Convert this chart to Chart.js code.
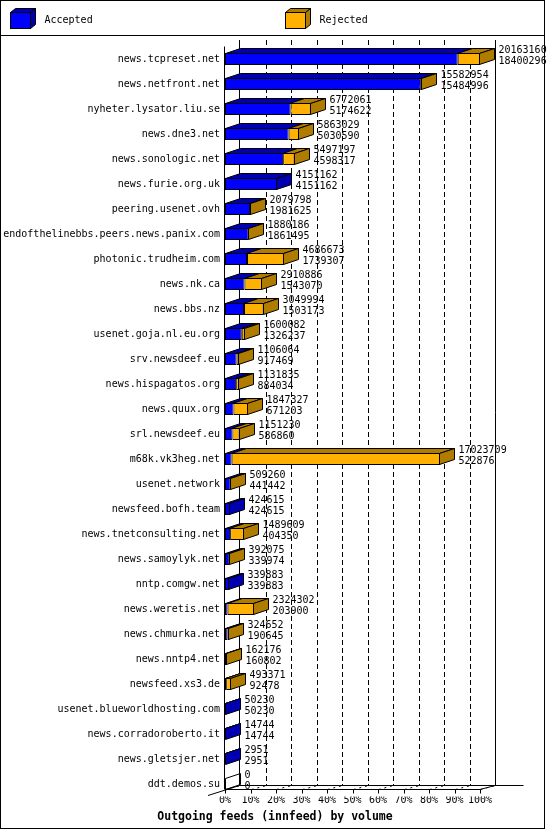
<!DOCTYPE html>
<html>
<head>
<meta charset="utf-8">
<title>Outgoing feeds (innfeed) by volume</title>
<script src="https://cdn.jsdelivr.net/npm/chart.js@4.4.1/dist/chart.umd.min.js"></script>
<style>
  body { margin: 0; background: #fff; }
  canvas { display: block; }
</style>
</head>
<body>
<canvas id="feeds" width="550" height="830"></canvas>
<script>
const servers = [
  'news.tcpreset.net', 'news.netfront.net', 'nyheter.lysator.liu.se', 'news.dne3.net',
  'news.sonologic.net', 'news.furie.org.uk', 'peering.usenet.ovh',
  'endofthelinebbs.peers.news.panix.com', 'photonic.trudheim.com', 'news.nk.ca',
  'news.bbs.nz', 'usenet.goja.nl.eu.org', 'srv.newsdeef.eu', 'news.hispagatos.org',
  'news.quux.org', 'srl.newsdeef.eu', 'm68k.vk3heg.net', 'usenet.network',
  'newsfeed.bofh.team', 'news.tnetconsulting.net', 'news.samoylyk.net', 'nntp.comgw.net',
  'news.weretis.net', 'news.chmurka.net', 'news.nntp4.net', 'newsfeed.xs3.de',
  'usenet.blueworldhosting.com', 'news.corradoroberto.it', 'news.gletsjer.net', 'ddt.demos.su'
];
// first number next to each bar: offered volume
const offered = [
  20163160, 15582954, 6772061, 5863029, 5497197, 4151162, 2079798, 1880186,
  4686673, 2910886, 3049994, 1600082, 1106064, 1131835, 1847327, 1151230,
  17023709, 509260, 424615, 1489609, 392075, 339883, 2324302, 324652,
  162176, 493371, 50230, 14744, 2951, 0
];
// second number: accepted volume
const accepted = [
  18400296, 15484996, 5174622, 5030590, 4598317, 4151162, 1981625, 1861495,
  1739307, 1543070, 1503173, 1326237, 917469, 884034, 671203, 586860,
  522876, 441442, 424615, 404350, 339974, 339883, 203900, 190645,
  160802, 92478, 50230, 14744, 2951, 0
];
const pctTicks = [0, 10, 20, 30, 40, 50, 60, 70, 80, 90, 100];

const maxOffered = Math.max(...offered);
const acceptedPct = accepted.map(v => v / maxOffered * 100);
const rejectedPct = offered.map((v, i) => (v - accepted[i]) / maxOffered * 100);

const DX = 15, DY = 5;
const MONO = '"DejaVu Sans Mono", "Liberation Mono", monospace';

function face(ctx, pts, fill) {
  ctx.beginPath();
  ctx.moveTo(pts[0][0], pts[0][1]);
  pts.slice(1).forEach(p => ctx.lineTo(p[0], p[1]));
  ctx.closePath();
  if (fill) { ctx.fillStyle = fill; ctx.fill(); }
  ctx.stroke();
}

function seg(ctx, x1, y1, x2, y2) {
  ctx.beginPath();
  ctx.moveTo(x1, y1);
  ctx.lineTo(x2, y2);
  ctx.stroke();
}

// back wall, floor and the 3D faces of the bars
const box3d = {
  id: 'box3d',
  beforeDatasetsDraw(chart) {
    const {ctx, chartArea: a, scales: {x}} = chart;
    const wallTop = a.top - 6.5;
    const floorBack = a.bottom - 11;
    const floorFront = a.bottom - 7;
    ctx.save();
    ctx.strokeStyle = '#000';
    ctx.lineWidth = 1;
    ctx.setLineDash([5, 3]);
    pctTicks.slice(1, -1).forEach(v => {
      const px = Math.round(x.getPixelForValue(v)) + DX + 0.5;
      seg(ctx, px, wallTop, px, floorBack);
    });
    ctx.setLineDash([]);
    const l = Math.round(a.left) + DX - 0.5;
    const r = Math.round(a.right) + DX + 0.5;
    seg(ctx, l, wallTop, l, floorBack);
    seg(ctx, r, wallTop, r, floorBack);
    // front axis line
    const f = Math.round(a.left) - 0.5;
    seg(ctx, f, a.top, f, floorFront);
    // floor
    seg(ctx, l, floorBack, r + 28, floorBack);
    seg(ctx, a.left, floorFront, a.right, floorFront);
    seg(ctx, a.right, floorFront, a.right + DX, floorBack);
    seg(ctx, a.left - 17, floorFront + 6, l, floorBack);
    pctTicks.forEach(v => {
      const px = Math.round(x.getPixelForValue(v)) + 0.5;
      seg(ctx, px, floorFront, px, floorFront + 4);
      ctx.setLineDash([2, 4]);
      seg(ctx, px, floorFront, px + DX, floorBack);
      ctx.setLineDash([]);
    });
    ctx.restore();
  },
  afterDatasetsDraw(chart) {
    const {ctx} = chart;
    const accMeta = chart.getDatasetMeta(0);
    const rejMeta = chart.getDatasetMeta(1);
    const [accDs, rejDs] = chart.data.datasets;
    ctx.save();
    ctx.strokeStyle = '#000';
    ctx.lineWidth = 1;
    accMeta.data.forEach((bar, i) => {
      const rej = rejMeta.data[i];
      const top = bar.y - bar.height / 2 + 0.5;
      const bot = bar.y + bar.height / 2 - 0.5;
      const x0 = Math.round(bar.base) + 0.5;
      const xa = Math.max(x0, Math.round(bar.x) - 0.5);
      const xe = Math.max(xa, Math.round(rej.x) - 0.5);
      if (accepted[i] > 0) {
        face(ctx, [[x0, top], [x0 + DX, top - DY], [xa + DX, top - DY], [xa, top]], accDs.shade);
      }
      if (offered[i] > accepted[i]) {
        face(ctx, [[xa, top], [xa + DX, top - DY], [xe + DX, top - DY], [xe, top]], rejDs.shade);
      }
      const side = offered[i] > accepted[i] ? rejDs.shade : (accepted[i] > 0 ? accDs.shade : null);
      face(ctx, [[xe, top], [xe + DX, top - DY], [xe + DX, bot - DY], [xe, bot]], side);

      ctx.fillStyle = '#000';
      ctx.font = '10px ' + MONO;
      ctx.textAlign = 'left';
      ctx.textBaseline = 'middle';
      ctx.fillText(String(offered[i]), xe + DX + 4, bar.y - 9);
      ctx.fillText(String(accepted[i]), xe + DX + 4, bar.y + 2);
    });
    ctx.restore();
  },
  afterDraw(chart) {
    const {ctx} = chart;
    ctx.save();
    ctx.strokeStyle = '#000';
    ctx.lineWidth = 1;
    ctx.strokeRect(0.5, 0.5, 544, 828);
    seg(ctx, 0, 35.5, 544, 35.5);
    chart.data.datasets.forEach((ds, k) => {
      const lx = 10.5 + k * 275;
      ctx.fillStyle = ds.backgroundColor;
      ctx.fillRect(lx, 12.5, 20, 16);
      ctx.strokeRect(lx, 12.5, 20, 16);
      face(ctx, [[lx, 12.5], [lx + 5, 8.5], [lx + 25, 8.5], [lx + 20, 12.5]], ds.shade);
      face(ctx, [[lx + 20, 12.5], [lx + 25, 8.5], [lx + 25, 24.5], [lx + 20, 28.5]], ds.shade);
      ctx.fillStyle = '#000';
      ctx.font = '10px ' + MONO;
      ctx.textAlign = 'left';
      ctx.textBaseline = 'middle';
      ctx.fillText(ds.label, lx + 34, 20);
    });
    ctx.restore();
  }
};

new Chart(document.getElementById('feeds'), {
  type: 'bar',
  data: {
    labels: servers,
    datasets: [{
      label: 'Accepted',
      data: acceptedPct,
      backgroundColor: '#0000ff',
      shade: '#0000b0',
      borderColor: '#000',
      borderWidth: 1,
      borderSkipped: false,
      inflateAmount: 0,
      barThickness: 12
    }, {
      label: 'Rejected',
      data: rejectedPct,
      backgroundColor: '#ffb000',
      shade: '#b07c00',
      borderColor: '#000',
      borderWidth: 1,
      borderSkipped: false,
      inflateAmount: 0,
      barThickness: 12
    }]
  },
  options: {
    indexAxis: 'y',
    responsive: false,
    animation: false,
    devicePixelRatio: 1,
    layout: { padding: { top: 46.5, left: 0, right: 0, bottom: 0 } },
    scales: {
      x: {
        type: 'linear',
        stacked: true,
        min: 0,
        max: 100,
        grid: { display: false, drawTicks: false },
        border: { display: false },
        afterBuildTicks: s => { s.ticks = pctTicks.map(v => ({ value: v })); },
        afterFit: s => { s.height = 14; },
        ticks: {
          autoSkip: false,
          maxRotation: 0,
          padding: -2,
          color: '#000',
          font: { family: MONO, size: 10 },
          callback: v => v + '%'
        }
      },
      y: {
        stacked: true,
        grid: { display: false, drawTicks: false },
        border: { display: false },
        afterFit: s => { s.width = 225; },
        ticks: {
          autoSkip: false,
          padding: 5,
          color: '#000',
          font: { family: MONO, size: 10 }
        }
      },
      yRight: {
        type: 'category',
        position: 'right',
        grid: { display: false, drawTicks: false },
        border: { display: false },
        ticks: { display: false },
        afterFit: s => { s.width = 70; }
      }
    },
    plugins: {
      legend: { display: false },
      tooltip: { enabled: false },
      title: {
        display: true,
        position: 'bottom',
        text: 'Outgoing feeds (innfeed) by volume',
        color: '#000',
        font: { family: MONO, size: 11.5, weight: 'bold' },
        padding: { top: 0, bottom: 5.7 }
      }
    }
  },
  plugins: [box3d]
});
</script>
</body>
</html>
